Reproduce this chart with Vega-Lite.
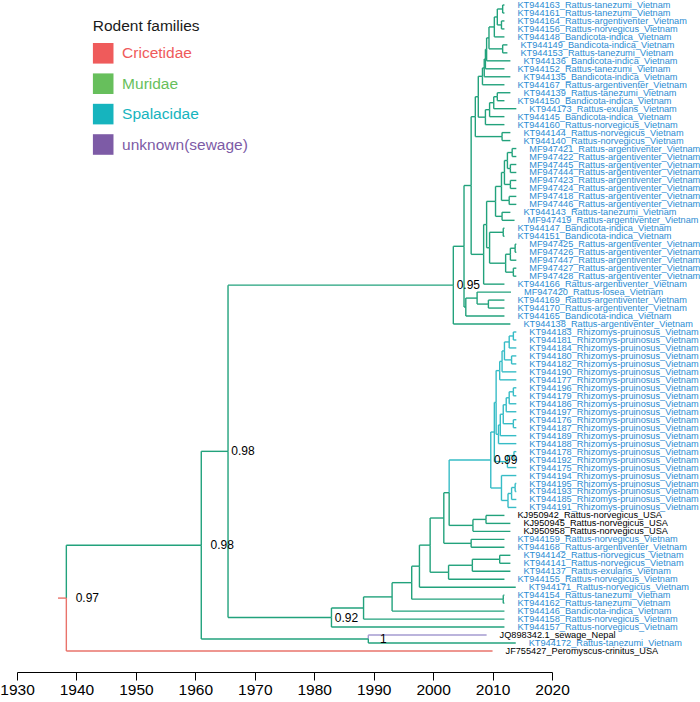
{
  "$schema": "https://vega.github.io/schema/vega-lite/v6.json",
  "width": 535,
  "height": 646,
  "autosize": {"type": "none"},
  "padding": {"left": 17, "top": 5, "right": 148, "bottom": 51},
  "background": "white",
  "config": {
    "view": {"stroke": null},
    "legend": {"padding": 0, "symbolSize": 424, "symbolType": "square", "symbolStrokeWidth": 0, "symbolOpacity": 1, "rowPadding": 9.4, "labelOffset": 8.4, "labelFontSize": 15.5, "titleFontSize": 15.5, "titlePadding": 8, "labelFont": "Liberation Sans", "titleFont": "Liberation Sans", "titleFontWeight": "normal", "titleColor": "#1a1a1a", "labelLimit": 400}
  },
  "datasets": {
    "br": [
      {"n": "KT944163_Rattus-tanezumi_Vietnam", "o": "vn", "p": 2011.7, "py": 1.5, "t": 2012, "r": 1, "c": "Muridae"},
      {"n": "KT944161_Rattus-tanezumi_Vietnam", "o": "vn", "p": 2011.7, "py": 1.5, "t": 2012, "r": 2, "c": "Muridae"},
      {"n": "KT944164_Rattus-argentiventer_Vietnam", "o": "vn", "p": 2011.5, "py": 3.5, "t": 2012, "r": 3, "c": "Muridae"},
      {"n": "KT944156_Rattus-norvegicus_Vietnam", "o": "vn", "p": 2011.5, "py": 3.5, "t": 2012, "r": 4, "c": "Muridae"},
      {"n": "KT944148_Bandicota-indica_Vietnam", "o": "vn", "p": 2010.3, "py": 3.75, "t": 2012, "r": 5, "c": "Muridae"},
      {"n": "KT944149_Bandicota-indica_Vietnam", "o": "vn", "p": 2011.7, "py": 6.5, "t": 2012.5, "r": 6, "c": "Muridae"},
      {"n": "KT944153_Rattus-tanezumi_Vietnam", "o": "vn", "p": 2011.7, "py": 6.5, "t": 2012.5, "r": 7, "c": "Muridae"},
      {"n": "KT944136_Bandicota-indica_Vietnam", "o": "vn", "p": 2009.0, "py": 6.5625, "t": 2013, "r": 8, "c": "Muridae"},
      {"n": "KT944152_Rattus-tanezumi_Vietnam", "o": "vn", "p": 2008.8, "py": 7.78125, "t": 2012, "r": 9, "c": "Muridae"},
      {"n": "KT944135_Bandicota-indica_Vietnam", "o": "vn", "p": 2008.6, "py": 8.890625, "t": 2013, "r": 10, "c": "Muridae"},
      {"n": "KT944167_Rattus-argentiventer_Vietnam", "o": "vn", "p": 2008.3, "py": 9.9453, "t": 2012, "r": 11, "c": "Muridae"},
      {"n": "KT944139_Rattus-tanezumi_Vietnam", "o": "vn", "p": 2010.8, "py": 12.5, "t": 2013, "r": 12, "c": "Muridae"},
      {"n": "KT944150_Bandicota-indica_Vietnam", "o": "vn", "p": 2010.8, "py": 12.5, "t": 2012, "r": 13, "c": "Muridae"},
      {"n": "KT944173_Rattus-exulans_Vietnam", "o": "vn", "p": 2010.2, "py": 13.25, "t": 2014, "r": 14, "c": "Muridae"},
      {"n": "KT944145_Bandicota-indica_Vietnam", "o": "vn", "p": 2009.5, "py": 14.125, "t": 2012, "r": 15, "c": "Muridae"},
      {"n": "KT944160_Rattus-norvegicus_Vietnam", "o": "vn", "p": 2008.8, "py": 15.0625, "t": 2012, "r": 16, "c": "Muridae"},
      {"n": "KT944144_Rattus-norvegicus_Vietnam", "o": "vn", "p": 2011.6, "py": 17.5, "t": 2013, "r": 17, "c": "Muridae"},
      {"n": "KT944140_Rattus-norvegicus_Vietnam", "o": "vn", "p": 2011.6, "py": 17.5, "t": 2013, "r": 18, "c": "Muridae"},
      {"n": "MF947421_Rattus-argentiventer_Vietnam", "o": "vn", "p": 2013.3, "py": 19.5, "t": 2014, "r": 19, "c": "Muridae"},
      {"n": "MF947422_Rattus-argentiventer_Vietnam", "o": "vn", "p": 2013.3, "py": 19.5, "t": 2014, "r": 20, "c": "Muridae"},
      {"n": "MF947445_Rattus-argentiventer_Vietnam", "o": "vn", "p": 2013.0, "py": 21.5, "t": 2014, "r": 21, "c": "Muridae"},
      {"n": "MF947444_Rattus-argentiventer_Vietnam", "o": "vn", "p": 2013.0, "py": 21.5, "t": 2014, "r": 22, "c": "Muridae"},
      {"n": "MF947423_Rattus-argentiventer_Vietnam", "o": "vn", "p": 2013.0, "py": 23.5, "t": 2014, "r": 23, "c": "Muridae"},
      {"n": "MF947424_Rattus-argentiventer_Vietnam", "o": "vn", "p": 2013.0, "py": 23.5, "t": 2014, "r": 24, "c": "Muridae"},
      {"n": "MF947418_Rattus-argentiventer_Vietnam", "o": "vn", "p": 2012.8, "py": 25.5, "t": 2014, "r": 25, "c": "Muridae"},
      {"n": "MF947446_Rattus-argentiventer_Vietnam", "o": "vn", "p": 2012.8, "py": 25.5, "t": 2014, "r": 26, "c": "Muridae"},
      {"n": "KT944143_Rattus-tanezumi_Vietnam", "o": "vn", "p": 2011.6, "py": 27.5, "t": 2013, "r": 27, "c": "Muridae"},
      {"n": "MF947419_Rattus-argentiventer_Vietnam", "o": "vn", "p": 2011.6, "py": 27.5, "t": 2013.7, "r": 28, "c": "Muridae"},
      {"n": "KT944147_Bandicota-indica_Vietnam", "o": "vn", "p": 2011.8, "py": 29.5, "t": 2012, "r": 29, "c": "Muridae"},
      {"n": "KT944151_Bandicota-indica_Vietnam", "o": "vn", "p": 2011.8, "py": 29.5, "t": 2012, "r": 30, "c": "Muridae"},
      {"n": "MF947425_Rattus-argentiventer_Vietnam", "o": "vn", "p": 2013.8, "py": 31.5, "t": 2014, "r": 31, "c": "Muridae"},
      {"n": "MF947426_Rattus-argentiventer_Vietnam", "o": "vn", "p": 2013.8, "py": 31.5, "t": 2014, "r": 32, "c": "Muridae"},
      {"n": "MF947447_Rattus-argentiventer_Vietnam", "o": "vn", "p": 2013.0, "py": 32.25, "t": 2014, "r": 33, "c": "Muridae"},
      {"n": "MF947427_Rattus-argentiventer_Vietnam", "o": "vn", "p": 2013.5, "py": 34.5, "t": 2014, "r": 34, "c": "Muridae"},
      {"n": "MF947428_Rattus-argentiventer_Vietnam", "o": "vn", "p": 2013.5, "py": 34.5, "t": 2014, "r": 35, "c": "Muridae"},
      {"n": "KT944166_Rattus-argentiventer_Vietnam", "o": "vn", "p": 2008.5, "py": 32.265625, "t": 2012, "r": 36, "c": "Muridae"},
      {"n": "MF947420_Rattus-losea_Vietnam", "o": "vn", "p": 2007.4, "py": 37.75, "t": 2013.1, "r": 37, "c": "Muridae"},
      {"n": "KT944169_Rattus-argentiventer_Vietnam", "o": "vn", "p": 2009.3, "py": 38.5, "t": 2012, "r": 38, "c": "Muridae"},
      {"n": "KT944170_Rattus-argentiventer_Vietnam", "o": "vn", "p": 2009.3, "py": 38.5, "t": 2012, "r": 39, "c": "Muridae"},
      {"n": "KT944165_Bandicota-indica_Vietnam", "o": "vn", "p": 2005.5, "py": 38.875, "t": 2012, "r": 40, "c": "Muridae"},
      {"n": "KT944138_Rattus-argentiventer_Vietnam", "o": "vn", "p": 2003.4, "py": 36.1272, "t": 2013, "r": 41, "c": "Muridae"},
      {"n": "KT944183_Rhizomys-pruinosus_Vietnam", "o": "vn", "p": 2013.5, "py": 42.5, "t": 2014, "r": 42, "c": "Spalacidae"},
      {"n": "KT944181_Rhizomys-pruinosus_Vietnam", "o": "vn", "p": 2013.5, "py": 42.5, "t": 2014, "r": 43, "c": "Spalacidae"},
      {"n": "KT944184_Rhizomys-pruinosus_Vietnam", "o": "vn", "p": 2012.8, "py": 43.25, "t": 2014, "r": 44, "c": "Spalacidae"},
      {"n": "KT944180_Rhizomys-pruinosus_Vietnam", "o": "vn", "p": 2013.2, "py": 45.5, "t": 2014, "r": 45, "c": "Spalacidae"},
      {"n": "KT944182_Rhizomys-pruinosus_Vietnam", "o": "vn", "p": 2013.2, "py": 45.5, "t": 2014, "r": 46, "c": "Spalacidae"},
      {"n": "KT944190_Rhizomys-pruinosus_Vietnam", "o": "vn", "p": 2011.6, "py": 45.6875, "t": 2014, "r": 47, "c": "Spalacidae"},
      {"n": "KT944177_Rhizomys-pruinosus_Vietnam", "o": "vn", "p": 2011.2, "py": 46.84375, "t": 2014, "r": 48, "c": "Spalacidae"},
      {"n": "KT944196_Rhizomys-pruinosus_Vietnam", "o": "vn", "p": 2013.5, "py": 49.5, "t": 2014, "r": 49, "c": "Spalacidae"},
      {"n": "KT944179_Rhizomys-pruinosus_Vietnam", "o": "vn", "p": 2013.5, "py": 49.5, "t": 2014, "r": 50, "c": "Spalacidae"},
      {"n": "KT944186_Rhizomys-pruinosus_Vietnam", "o": "vn", "p": 2012.8, "py": 50.25, "t": 2014, "r": 51, "c": "Spalacidae"},
      {"n": "KT944197_Rhizomys-pruinosus_Vietnam", "o": "vn", "p": 2012.3, "py": 51.125, "t": 2014, "r": 52, "c": "Spalacidae"},
      {"n": "KT944176_Rhizomys-pruinosus_Vietnam", "o": "vn", "p": 2013.5, "py": 53.5, "t": 2014, "r": 53, "c": "Spalacidae"},
      {"n": "KT944187_Rhizomys-pruinosus_Vietnam", "o": "vn", "p": 2013.5, "py": 53.5, "t": 2014, "r": 54, "c": "Spalacidae"},
      {"n": "KT944189_Rhizomys-pruinosus_Vietnam", "o": "vn", "p": 2011.3, "py": 53.65625, "t": 2014, "r": 55, "c": "Spalacidae"},
      {"n": "KT944188_Rhizomys-pruinosus_Vietnam", "o": "vn", "p": 2011.0, "py": 54.828125, "t": 2014, "r": 56, "c": "Spalacidae"},
      {"n": "KT944178_Rhizomys-pruinosus_Vietnam", "o": "vn", "p": 2013.6, "py": 57.5, "t": 2014, "r": 57, "c": "Spalacidae"},
      {"n": "KT944192_Rhizomys-pruinosus_Vietnam", "o": "vn", "p": 2013.6, "py": 57.5, "t": 2014, "r": 58, "c": "Spalacidae"},
      {"n": "KT944175_Rhizomys-pruinosus_Vietnam", "o": "vn", "p": 2012.5, "py": 58.25, "t": 2014, "r": 59, "c": "Spalacidae"},
      {"n": "KT944194_Rhizomys-pruinosus_Vietnam", "o": "vn", "p": 2011.5, "py": 61.5625, "t": 2014, "r": 60, "c": "Spalacidae"},
      {"n": "KT944195_Rhizomys-pruinosus_Vietnam", "o": "vn", "p": 2013.8, "py": 61.5, "t": 2014, "r": 61, "c": "Spalacidae"},
      {"n": "KT944193_Rhizomys-pruinosus_Vietnam", "o": "vn", "p": 2013.8, "py": 61.5, "t": 2014, "r": 62, "c": "Spalacidae"},
      {"n": "KT944185_Rhizomys-pruinosus_Vietnam", "o": "vn", "p": 2013.2, "py": 62.25, "t": 2014, "r": 63, "c": "Spalacidae"},
      {"n": "KT944191_Rhizomys-pruinosus_Vietnam", "o": "vn", "p": 2012.6, "py": 63.125, "t": 2014, "r": 64, "c": "Spalacidae"},
      {"n": "KJ950942_Rattus-norvegicus_USA", "o": "x", "p": 2008.9, "py": 65.5, "t": 2012, "r": 65, "c": "Muridae"},
      {"n": "KJ950945_Rattus-norvegicus_USA", "o": "x", "p": 2008.9, "py": 65.5, "t": 2013, "r": 66, "c": "Muridae"},
      {"n": "KJ950958_Rattus-norvegicus_USA", "o": "x", "p": 2006.7, "py": 66.25, "t": 2013, "r": 67, "c": "Muridae"},
      {"n": "KT944159_Rattus-norvegicus_Vietnam", "o": "vn", "p": 2006.4, "py": 68.5, "t": 2012, "r": 68, "c": "Muridae"},
      {"n": "KT944168_Rattus-argentiventer_Vietnam", "o": "vn", "p": 2006.4, "py": 68.5, "t": 2012, "r": 69, "c": "Muridae"},
      {"n": "KT944142_Rattus-norvegicus_Vietnam", "o": "vn", "p": 2011.2, "py": 70.5, "t": 2013, "r": 70, "c": "Muridae"},
      {"n": "KT944141_Rattus-norvegicus_Vietnam", "o": "vn", "p": 2011.2, "py": 70.5, "t": 2013, "r": 71, "c": "Muridae"},
      {"n": "KT944137_Rattus-exulans_Vietnam", "o": "vn", "p": 2006.6, "py": 71.25, "t": 2013, "r": 72, "c": "Muridae"},
      {"n": "KT944155_Rattus-norvegicus_Vietnam", "o": "vn", "p": 2002.6, "py": 72.125, "t": 2012, "r": 73, "c": "Muridae"},
      {"n": "KT944171_Rattus-norvegicus_Vietnam", "o": "vn", "p": 1997.7, "py": 71.3627, "t": 2013.9, "r": 74, "c": "Muridae"},
      {"n": "KT944154_Rattus-tanezumi_Vietnam", "o": "vn", "p": 2011.8, "py": 75.5, "t": 2012, "r": 75, "c": "Muridae"},
      {"n": "KT944162_Rattus-tanezumi_Vietnam", "o": "vn", "p": 2011.8, "py": 75.5, "t": 2012, "r": 76, "c": "Muridae"},
      {"n": "KT944146_Bandicota-indica_Vietnam", "o": "vn", "p": 1993.1, "py": 75.2157, "t": 2012, "r": 77, "c": "Muridae"},
      {"n": "KT944158_Rattus-norvegicus_Vietnam", "o": "vn", "p": 1988.3, "py": 76.6078, "t": 2012, "r": 78, "c": "Muridae"},
      {"n": "KT944157_Rattus-norvegicus_Vietnam", "o": "vn", "p": 1982.9, "py": 77.8039, "t": 2012, "r": 79, "c": "Muridae"},
      {"n": "JQ898342.1_sewage_Nepal", "o": "x", "p": 1989.1, "py": 80.5, "t": 2009, "r": 80, "c": "sewage"},
      {"n": "KT944172_Rattus-tanezumi_Vietnam", "o": "vn", "p": 1989.1, "py": 80.5, "t": 2013.9, "r": 81, "c": "Muridae"},
      {"n": "JF755427_Peromyscus-crinitus_USA", "o": "x", "p": 1938.3, "py": 75.3664, "t": 2010, "r": 82, "c": "Cricetidae"},
      {"p": 2010.8, "py": 2.5, "t": 2011.7, "r": 1.5, "c": "Muridae"},
      {"p": 2010.8, "py": 2.5, "t": 2011.5, "r": 3.5, "c": "Muridae"},
      {"p": 2010.3, "py": 3.75, "t": 2010.8, "r": 2.5, "c": "Muridae"},
      {"p": 2009.4, "py": 5.125, "t": 2010.3, "r": 3.75, "c": "Muridae"},
      {"p": 2009.4, "py": 5.125, "t": 2011.7, "r": 6.5, "c": "Muridae"},
      {"p": 2009.0, "py": 6.5625, "t": 2009.4, "r": 5.125, "c": "Muridae"},
      {"p": 2008.8, "py": 7.78125, "t": 2009.0, "r": 6.5625, "c": "Muridae"},
      {"p": 2008.6, "py": 8.890625, "t": 2008.8, "r": 7.78125, "c": "Muridae"},
      {"p": 2008.3, "py": 9.9453, "t": 2008.6, "r": 8.890625, "c": "Muridae"},
      {"p": 2007.6, "py": 12.5039, "t": 2008.3, "r": 9.9453, "c": "Muridae"},
      {"p": 2010.2, "py": 13.25, "t": 2010.8, "r": 12.5, "c": "Muridae"},
      {"p": 2009.5, "py": 14.125, "t": 2010.2, "r": 13.25, "c": "Muridae"},
      {"p": 2008.8, "py": 15.0625, "t": 2009.5, "r": 14.125, "c": "Muridae"},
      {"p": 2007.6, "py": 12.5039, "t": 2008.8, "r": 15.0625, "c": "Muridae"},
      {"p": 2007.1, "py": 15.002, "t": 2007.6, "r": 12.5039, "c": "Muridae"},
      {"p": 2007.1, "py": 15.002, "t": 2011.6, "r": 17.5, "c": "Muridae"},
      {"p": 2006.4, "py": 23.6338, "t": 2007.1, "r": 15.002, "c": "Muridae"},
      {"p": 2012.5, "py": 20.5, "t": 2013.3, "r": 19.5, "c": "Muridae"},
      {"p": 2012.5, "py": 20.5, "t": 2013.0, "r": 21.5, "c": "Muridae"},
      {"p": 2012.0, "py": 22, "t": 2012.5, "r": 20.5, "c": "Muridae"},
      {"p": 2012.0, "py": 22, "t": 2013.0, "r": 23.5, "c": "Muridae"},
      {"p": 2011.5, "py": 23.75, "t": 2012.0, "r": 22, "c": "Muridae"},
      {"p": 2011.5, "py": 23.75, "t": 2012.8, "r": 25.5, "c": "Muridae"},
      {"p": 2010.5, "py": 25.625, "t": 2011.5, "r": 23.75, "c": "Muridae"},
      {"p": 2010.5, "py": 25.625, "t": 2011.6, "r": 27.5, "c": "Muridae"},
      {"p": 2009.0, "py": 28.53125, "t": 2010.5, "r": 25.625, "c": "Muridae"},
      {"p": 2009.5, "py": 31.4375, "t": 2011.8, "r": 29.5, "c": "Muridae"},
      {"p": 2013.0, "py": 32.25, "t": 2013.8, "r": 31.5, "c": "Muridae"},
      {"p": 2012.2, "py": 33.375, "t": 2013.0, "r": 32.25, "c": "Muridae"},
      {"p": 2012.2, "py": 33.375, "t": 2013.5, "r": 34.5, "c": "Muridae"},
      {"p": 2009.5, "py": 31.4375, "t": 2012.2, "r": 33.375, "c": "Muridae"},
      {"p": 2009.0, "py": 28.53125, "t": 2009.5, "r": 31.4375, "c": "Muridae"},
      {"p": 2008.5, "py": 32.265625, "t": 2009.0, "r": 28.53125, "c": "Muridae"},
      {"p": 2006.4, "py": 23.6338, "t": 2008.5, "r": 32.265625, "c": "Muridae"},
      {"p": 2005.2, "py": 31.2544, "t": 2006.4, "r": 23.6338, "c": "Muridae"},
      {"p": 2007.4, "py": 37.75, "t": 2009.3, "r": 38.5, "c": "Muridae"},
      {"p": 2005.5, "py": 38.875, "t": 2007.4, "r": 37.75, "c": "Muridae"},
      {"p": 2005.2, "py": 31.2544, "t": 2005.5, "r": 38.875, "c": "Muridae"},
      {"p": 2003.4, "py": 36.1272, "t": 2005.2, "r": 31.2544, "c": "Muridae"},
      {"p": 1965.5, "py": 56.9656, "t": 2003.4, "r": 36.1272, "c": "Muridae"},
      {"p": 2012.8, "py": 43.25, "t": 2013.5, "r": 42.5, "c": "Spalacidae"},
      {"p": 2012.0, "py": 44.375, "t": 2012.8, "r": 43.25, "c": "Spalacidae"},
      {"p": 2012.0, "py": 44.375, "t": 2013.2, "r": 45.5, "c": "Spalacidae"},
      {"p": 2011.6, "py": 45.6875, "t": 2012.0, "r": 44.375, "c": "Spalacidae"},
      {"p": 2011.2, "py": 46.84375, "t": 2011.6, "r": 45.6875, "c": "Spalacidae"},
      {"p": 2010.6, "py": 50.8359, "t": 2011.2, "r": 46.84375, "c": "Spalacidae"},
      {"p": 2012.8, "py": 50.25, "t": 2013.5, "r": 49.5, "c": "Spalacidae"},
      {"p": 2012.3, "py": 51.125, "t": 2012.8, "r": 50.25, "c": "Spalacidae"},
      {"p": 2011.8, "py": 52.3125, "t": 2012.3, "r": 51.125, "c": "Spalacidae"},
      {"p": 2011.8, "py": 52.3125, "t": 2013.5, "r": 53.5, "c": "Spalacidae"},
      {"p": 2011.3, "py": 53.65625, "t": 2011.8, "r": 52.3125, "c": "Spalacidae"},
      {"p": 2011.0, "py": 54.828125, "t": 2011.3, "r": 53.65625, "c": "Spalacidae"},
      {"p": 2010.6, "py": 50.8359, "t": 2011.0, "r": 54.828125, "c": "Spalacidae"},
      {"p": 2010.3, "py": 54.543, "t": 2010.6, "r": 50.8359, "c": "Spalacidae"},
      {"p": 2012.5, "py": 58.25, "t": 2013.6, "r": 57.5, "c": "Spalacidae"},
      {"p": 2010.3, "py": 54.543, "t": 2012.5, "r": 58.25, "c": "Spalacidae"},
      {"p": 2009.7, "py": 58.0527, "t": 2010.3, "r": 54.543, "c": "Spalacidae"},
      {"p": 2013.2, "py": 62.25, "t": 2013.8, "r": 61.5, "c": "Spalacidae"},
      {"p": 2012.6, "py": 63.125, "t": 2013.2, "r": 62.25, "c": "Spalacidae"},
      {"p": 2011.5, "py": 61.5625, "t": 2012.6, "r": 63.125, "c": "Spalacidae"},
      {"p": 2009.7, "py": 58.0527, "t": 2011.5, "r": 61.5625, "c": "Spalacidae"},
      {"p": 2002.7, "py": 62.1514, "t": 2009.7, "r": 58.0527, "c": "Spalacidae"},
      {"p": 2006.7, "py": 66.25, "t": 2008.9, "r": 65.5, "c": "Muridae"},
      {"p": 2002.7, "py": 62.1514, "t": 2006.7, "r": 66.25, "c": "Muridae"},
      {"p": 2001.8, "py": 65.3257, "t": 2002.7, "r": 62.1514, "c": "Muridae"},
      {"p": 2001.8, "py": 65.3257, "t": 2006.4, "r": 68.5, "c": "Muridae"},
      {"p": 1999.5, "py": 68.7254, "t": 2001.8, "r": 65.3257, "c": "Muridae"},
      {"p": 2006.6, "py": 71.25, "t": 2011.2, "r": 70.5, "c": "Muridae"},
      {"p": 2002.6, "py": 72.125, "t": 2006.6, "r": 71.25, "c": "Muridae"},
      {"p": 1999.5, "py": 68.7254, "t": 2002.6, "r": 72.125, "c": "Muridae"},
      {"p": 1997.7, "py": 71.3627, "t": 1999.5, "r": 68.7254, "c": "Muridae"},
      {"p": 1996.4, "py": 73.4313, "t": 1997.7, "r": 71.3627, "c": "Muridae"},
      {"p": 1996.4, "py": 73.4313, "t": 2011.8, "r": 75.5, "c": "Muridae"},
      {"p": 1993.1, "py": 75.2157, "t": 1996.4, "r": 73.4313, "c": "Muridae"},
      {"p": 1988.3, "py": 76.6078, "t": 1993.1, "r": 75.2157, "c": "Muridae"},
      {"p": 1982.9, "py": 77.8039, "t": 1988.3, "r": 76.6078, "c": "Muridae"},
      {"p": 1965.5, "py": 56.9656, "t": 1982.9, "r": 77.8039, "c": "Muridae"},
      {"p": 1961.0, "py": 68.7328, "t": 1965.5, "r": 56.9656, "c": "Muridae"},
      {"p": 1961.0, "py": 68.7328, "t": 1989.1, "r": 80.5, "c": "Muridae"},
      {"p": 1938.3, "py": 75.3664, "t": 1961.0, "r": 68.7328, "c": "Muridae"},
      {"p": 1936.9, "py": 75.3664, "t": 1938.3, "r": 75.3664, "c": "Cricetidae"}
    ],
    "sup": [
      {"t": 1938.3, "r": 75.3664, "s": "0.97", "g": "far"},
      {"t": 1961.0, "r": 68.7328, "s": "0.98", "g": "far"},
      {"t": 1965.5, "r": 56.9656, "s": "0.98", "g": "near"},
      {"t": 2003.4, "r": 36.1272, "s": "0.95", "g": "near"},
      {"t": 2009.7, "r": 58.0527, "s": "0.99", "g": "near"},
      {"t": 1982.9, "r": 77.8039, "s": "0.92", "g": "near"},
      {"t": 1989.1, "r": 80.5, "s": "1", "g": "near"}
    ],
    "fam": [
      {"f": "Cricetidae"},
      {"f": "Muridae"},
      {"f": "Spalacidae"},
      {"f": "unknown(sewage)"}
    ]
  },
  "layer": [
    {
      "data": {"name": "br"},
      "mark": {"type": "rule", "strokeWidth": 1.4},
      "encoding": {
        "x": {"field": "p", "type": "quantitative", "scale": {"domain": [1930, 2020], "nice": false, "zero": false},
          "axis": {"title": null, "values": [1930, 1935, 1940, 1945, 1950, 1955, 1960, 1965, 1970, 1975, 1980, 1985, 1990, 1995, 2000, 2005, 2010, 2015, 2020],
            "format": "d", "labelExpr": "datum.value % 10 === 0 ? datum.label : ''",
            "tickSize": {"condition": {"test": "datum.value % 10 === 0", "value": 8}, "value": 4},
            "offset": 21, "grid": false, "domainColor": "#000000", "tickColor": "#000000", "labelColor": "#000000",
            "labelFontSize": 15.5, "labelFont": "Liberation Sans", "labelPadding": 2, "labelFlush": false, "labelOverlap": false, "labelBound": false,
            "domainWidth": 1, "tickWidth": 1}},
        "y": {"field": "py", "type": "quantitative", "scale": {"domain": [1, 82], "reverse": true, "nice": false, "zero": false}, "axis": null},
        "y2": {"field": "r"},
        "color": {"field": "c", "type": "nominal", "scale": {"domain": ["Cricetidae", "Muridae", "Spalacidae", "sewage"], "range": ["#e9736b", "#22a27c", "#36bcc6", "#a59bd1"]}, "legend": null}
      }
    },
    {
      "data": {"name": "br"},
      "mark": {"type": "rule", "strokeWidth": 1.4},
      "encoding": {
        "x": {"field": "p", "type": "quantitative", "title": null},
        "x2": {"field": "t"},
        "y": {"field": "r", "type": "quantitative", "title": null},
        "color": {"field": "c", "type": "nominal", "scale": {"domain": ["Cricetidae", "Muridae", "Spalacidae", "sewage"], "range": ["#e9736b", "#22a27c", "#36bcc6", "#a59bd1"]}, "legend": null}
      }
    },
    {
      "data": {"name": "br"},
      "transform": [{"filter": "datum.n != null"}],
      "mark": {"type": "text", "align": "left", "baseline": "middle", "dx": 13, "fontSize": 9.2, "font": "Liberation Sans"},
      "encoding": {
        "x": {"field": "t", "type": "quantitative", "title": null},
        "y": {"field": "r", "type": "quantitative", "title": null},
        "text": {"field": "n"},
        "color": {"field": "o", "type": "nominal", "scale": {"domain": ["vn", "x"], "range": ["#2b8cd2", "#000000"]}, "legend": null}
      }
    },
    {
      "data": {"name": "sup"},
      "transform": [{"filter": "datum.g === 'far'"}],
      "mark": {"type": "text", "align": "center", "baseline": "middle", "dx": 21, "fontSize": 12, "font": "Liberation Sans", "fill": "#000000"},
      "encoding": {
        "x": {"field": "t", "type": "quantitative", "title": null},
        "y": {"field": "r", "type": "quantitative", "title": null},
        "text": {"field": "s"}
      }
    },
    {
      "data": {"name": "sup"},
      "transform": [{"filter": "datum.g === 'near'"}],
      "mark": {"type": "text", "align": "center", "baseline": "middle", "dx": 15, "fontSize": 12, "font": "Liberation Sans", "fill": "#000000"},
      "encoding": {
        "x": {"field": "t", "type": "quantitative", "title": null},
        "y": {"field": "r", "type": "quantitative", "title": null},
        "text": {"field": "s"}
      }
    },
    {
      "data": {"name": "fam"},
      "mark": {"type": "point", "shape": "square", "filled": true, "opacity": 0},
      "encoding": {
        "color": {"field": "f", "type": "nominal",
          "scale": {"domain": ["Cricetidae", "Muridae", "Spalacidae", "unknown(sewage)"], "range": ["#ef5b5b", "#67bf5c", "#16b4be", "#7d5ba6"]},
          "legend": {"title": "Rodent families", "orient": "none", "legendX": 75.7, "legendY": 14.3, "symbolOpacity": 1,
            "labelColor": {"expr": "datum.label === 'Cricetidae' ? '#ef5b5b' : datum.label === 'Muridae' ? '#67bf5c' : datum.label === 'Spalacidae' ? '#16b4be' : '#7d5ba6'"}}}
      }
    }
  ],
  "resolve": {"scale": {"color": "independent"}}
}
